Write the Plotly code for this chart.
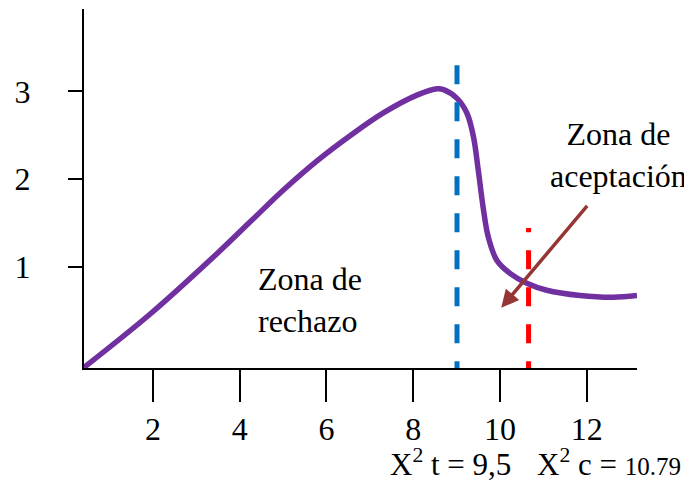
import plotly.graph_objects as go

# curve
x_vals = [0.41, 1.95, 3.48, 4.26, 5.02, 5.79, 6.56, 7.33, 8.10, 8.56, 8.70, 9.01,
          9.24, 9.39, 9.50, 9.62, 9.73, 9.93, 10.24, 10.62, 11.08, 11.85, 12.61, 13.16]
y_vals = [-0.15, 0.465, 1.15, 1.52, 1.88, 2.21, 2.50, 2.76, 2.96, 3.03, 3.02, 2.92,
          2.75, 2.48, 2.10, 1.65, 1.34, 1.07, 0.92, 0.81, 0.73, 0.67, 0.65, 0.67]

x_ticks = [2, 4, 6, 8, 10, 12]
y_ticks = [1, 2, 3]

# critical lines: x position, top value, colour
crit_x = [9.01, 10.66]
crit_top = [3.32, 1.44]
crit_colors = ["#0070C0", "#FF0000"]
line_bottom = -0.297

FONT = "Liberation Serif"

fig = go.Figure()

fig.add_trace(go.Scatter(
    x=x_vals, y=y_vals, mode="lines",
    line=dict(color="#7030A0", width=5.5, shape="spline", smoothing=1.0),
    cliponaxis=False, showlegend=False, hoverinfo="skip"
))

for cx, ct, cc in zip(crit_x, crit_top, crit_colors):
    fig.add_trace(go.Scatter(
        x=[cx, cx], y=[line_bottom, ct], mode="lines",
        line=dict(color=cc, width=5, dash="19px,18px"),
        cliponaxis=False, showlegend=False, hoverinfo="skip"
    ))

# labels
fig.add_annotation(x=5.62, y=0.62, xref="x", yref="y", text="Zona de<br>rechazo",
                   showarrow=False, font=dict(family=FONT, size=32, color="black"),
                   align="left", xanchor="center", yanchor="middle")
fig.add_annotation(x=12.74, y=2.27, xref="x", yref="y", text="Zona de<br>aceptación",
                   showarrow=False, font=dict(family=FONT, size=32, color="black"),
                   align="center", xanchor="center", yanchor="middle")

# arrow to acceptance zone
fig.add_annotation(x=10.03, y=0.53, ax=12.04, ay=1.71, xref="x", yref="y",
                   axref="x", ayref="y", text="", showarrow=True,
                   arrowhead=2, arrowsize=1, arrowwidth=3.5, arrowcolor="#943634")

# bottom texts
fig.add_annotation(x=7.41, y=-0.262, xref="x", yref="paper",
                   text="X<sup>2</sup> t = 9,5",
                   showarrow=False, font=dict(family=FONT, size=31, color="black"),
                   xanchor="left", yanchor="middle")
fig.add_annotation(x=10.81, y=-0.262, xref="x", yref="paper",
                   text="X<sup>2</sup> c = <span style='font-size:25px'>10.79</span>",
                   showarrow=False, font=dict(family=FONT, size=31, color="black"),
                   xanchor="left", yanchor="middle")

# page body adds 8px, so the figure is 8px smaller
fig.update_layout(
    width=684, height=476,
    margin=dict(l=76, r=55, t=1, b=116),
    paper_bgcolor="white", plot_bgcolor="white",
    font=dict(family=FONT, size=32, color="black"),
    xaxis=dict(range=[0.41, 13.16], tickvals=x_ticks, ticktext=[str(v) for v in x_ticks],
               showgrid=False, zeroline=False, showline=True, linecolor="black", linewidth=2,
               ticks="outside", ticklen=32, tickwidth=2, tickcolor="black",
               ticklabelstandoff=0, automargin=False),
    yaxis=dict(range=[-0.157, 3.94], tickvals=y_ticks, ticktext=[str(v) for v in y_ticks],
               showgrid=False, zeroline=False, showline=True, linecolor="black", linewidth=2,
               ticks="outside", ticklen=14, tickwidth=2, tickcolor="black",
               ticklabelstandoff=31, automargin=False),
)

fig.write_html("out.html")
